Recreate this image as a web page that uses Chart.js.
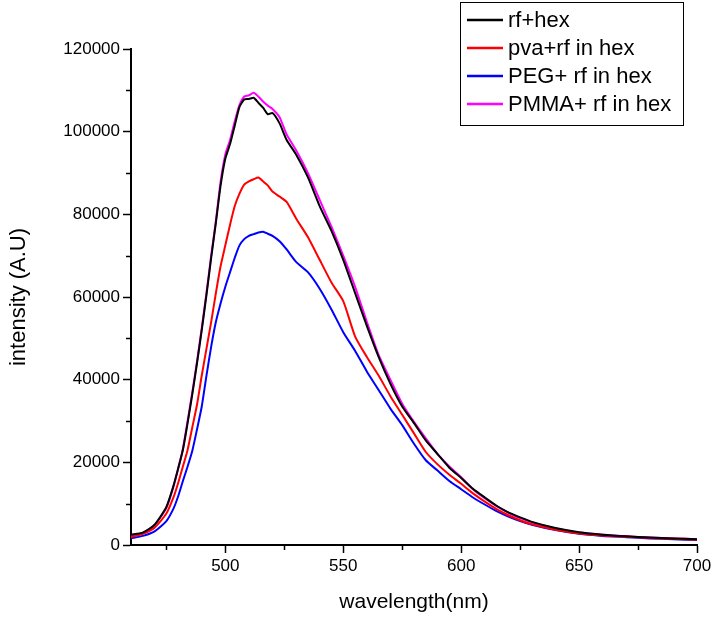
<!DOCTYPE html>
<html>
<head>
<meta charset="utf-8">
<script src="https://cdn.jsdelivr.net/npm/chart.js@4/dist/chart.umd.min.js"></script>
<style>
  html,body{margin:0;padding:0;background:#fff;}
  #wrap{width:715px;height:619px;position:relative;}
</style>
</head>
<body>
<div id="wrap"><canvas id="grafico"></canvas></div>
<script>
// wavelength grid (nm)
const wl = [460,465,470,475,478,480,482,484,486,488,490,492,494,496,498,500,502,504,506,508,510,512,514,516,518,520,523,526,530,535,540,545,550,555,560,565,570,575,580,585,590,595,600,605,610,615,620,625,630,640,650,660,670,680,690,700];

const rfHex = [2500,3000,4900,9200,14300,18500,23000,29500,36500,44000,52000,60500,69500,78000,87000,93500,97000,101500,106000,107800,107900,108200,107000,105800,104200,104500,102000,98000,94500,89000,82000,76000,69000,61000,53000,45500,39000,33500,29500,25300,22000,18700,16200,13600,11500,9500,7900,6700,5600,4100,3100,2500,2100,1800,1600,1400];
const pvaRf = [1900,2700,4200,7600,11500,15000,19000,23000,28500,34000,41000,47500,54000,61000,67500,72500,77500,82000,85000,87200,88000,88500,88900,88000,87000,85500,84300,83000,79000,74500,69000,63500,59000,50500,45500,41000,36000,31500,27000,22500,19500,17000,14800,12500,10500,8700,7200,6000,5000,3700,2800,2300,2000,1700,1500,1300];
const pegRf = [1600,2200,3300,5800,8800,11800,15500,19000,22800,28000,33500,41000,48000,54000,58500,62500,66000,69500,72500,74000,74800,75200,75600,75800,75300,74800,73500,71500,68500,66000,62000,57000,51500,47000,42000,37500,33000,29000,24500,20500,18000,15500,13500,11500,9800,8200,6900,5800,4900,3600,2700,2200,1900,1600,1400,1200];
const pmmaRf = [2300,2900,4800,9000,14100,18500,23300,30000,37000,44500,52500,61000,70000,78500,88000,94500,98000,102500,106500,108500,108800,109400,108500,107300,106300,105500,103500,99300,95500,90000,83500,77000,70000,62500,54000,46000,40000,34200,29800,25800,22000,19000,16400,13500,11300,9400,7800,6500,5500,4000,3000,2500,2100,1800,1600,1400];

const labels = ['rf+hex','pva+rf in hex','PEG+ rf in hex','PMMA+ rf in hex'];
const colors = ['#000000','#ff0000','#0000ff','#ff00ff'];
const series = [rfHex,pvaRf,pegRf,pmmaRf];

const xTicks = [475,500,525,550,575,600,625,650,675,700];
const yTicks = [10000,20000,30000,40000,50000,60000,70000,80000,90000,100000,110000,120000];

const FONT = 'Liberation Sans, Arial, sans-serif';

// shorter ticks between the labelled ones
const minorTicks = {
  id:'minorTicks',
  afterDraw(c){
    const ctx=c.ctx, x=c.scales.x, y=c.scales.y;
    ctx.save();
    ctx.strokeStyle='#000'; ctx.lineWidth=1.5;
    ctx.beginPath();
    xTicks.filter(v=>v%50!==0).forEach(v=>{
      const px=Math.round(x.getPixelForValue(v))+0.5;
      ctx.moveTo(px,y.bottom); ctx.lineTo(px,y.bottom+5);
    });
    yTicks.filter(v=>v%20000!==0).forEach(v=>{
      const py=Math.round(y.getPixelForValue(v))+0.5;
      ctx.moveTo(x.left,py); ctx.lineTo(x.left-5,py);
    });
    ctx.stroke();
    ctx.restore();
  }
};

const boxLegend = {
  id:'boxLegend',
  afterDraw(c){
    const ctx=c.ctx;
    const bx=460, by=2, bw=223, bh=123, row=28;
    ctx.save();
    ctx.fillStyle='#fff'; ctx.fillRect(bx,by,bw,bh);
    ctx.strokeStyle='#000'; ctx.lineWidth=1;
    ctx.strokeRect(bx+0.5,by+0.5,bw,bh);
    ctx.font='22px '+FONT; ctx.textBaseline='middle'; ctx.textAlign='left';
    c.data.datasets.forEach((d,i)=>{
      const yy=by+18+i*row;
      ctx.strokeStyle=d.borderColor; ctx.lineWidth=2.5;
      ctx.beginPath(); ctx.moveTo(bx+7,yy); ctx.lineTo(bx+43,yy); ctx.stroke();
      ctx.fillStyle='#000'; ctx.fillText(d.label,bx+48,yy+1);
    });
    ctx.restore();
  }
};

new Chart(grafico,{
  type:'line',
  data:{
    datasets: series.map((s,i)=>({
      label:labels[i],
      data:wl.map((w,j)=>({x:w,y:s[j]})),
      borderColor:colors[i],
      borderWidth:2,
      pointRadius:0,
      tension:0.2,
      fill:false
    }))
  },
  options:{
    responsive:true,
    maintainAspectRatio:false,
    animation:false,
    layout:{padding:{top:49,right:18,left:0,bottom:0}},
    plugins:{legend:{display:false},tooltip:{enabled:false}},
    scales:{
      x:{
        type:'linear', min:460, max:700,
        afterBuildTicks:s=>{s.ticks=xTicks.map(v=>({value:v}));},
        afterFit:s=>{s.height=74;},
        border:{color:'#000',width:2},
        grid:{drawOnChartArea:false,drawTicks:true,tickLength:8,tickWidth:1.5,
          tickColor:ctx=>(ctx.tick&&ctx.tick.value%50===0)?'#000':'rgba(0,0,0,0)'},
        ticks:{color:'#000',font:{family:FONT,size:17},padding:3,maxRotation:0,autoSkip:false,
          callback:v=>v%50===0?String(v):''},
        title:{display:true,text:'wavelength(nm)',color:'#000',font:{family:FONT,size:21},padding:{top:0,bottom:4}}
      },
      y:{
        min:0, max:120000,
        afterBuildTicks:s=>{s.ticks=[0].concat(yTicks).map(v=>({value:v}));},
        afterFit:s=>{s.width=131;},
        border:{color:'#000',width:2},
        grid:{drawOnChartArea:false,drawTicks:true,tickLength:8,tickWidth:1.5,
          tickColor:ctx=>(ctx.tick&&ctx.tick.value%20000===0)?'#000':'rgba(0,0,0,0)'},
        ticks:{color:'#000',font:{family:FONT,size:17},padding:3,autoSkip:false,
          callback:v=>v%20000===0?String(v):''},
        title:{display:true,text:'intensity (A.U)',color:'#000',font:{family:FONT,size:22},padding:{top:6,bottom:0}}
      }
    }
  },
  plugins:[minorTicks,boxLegend]
});
</script>
</body>
</html>
